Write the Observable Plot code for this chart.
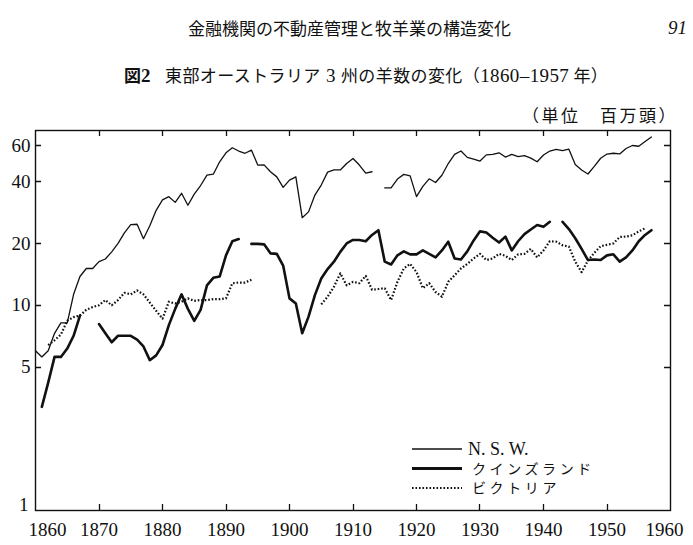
<!DOCTYPE html>
<html><head><meta charset="utf-8">
<script src="https://cdn.jsdelivr.net/npm/d3@7"></script>
<script src="https://cdn.jsdelivr.net/npm/@observablehq/plot@0.6"></script>
<style>
body{margin:0;background:#fff;}
#wrap{position:relative;width:693px;height:545px;overflow:hidden;background:#fff;color:#111;}
.t{position:absolute;white-space:nowrap;line-height:1;}
.jp{font-family:"Noto Sans CJK JP","Noto Sans CJK SC",sans-serif;}
.sf{font-family:"Liberation Serif","DejaVu Serif",serif;}
#wrap svg{position:absolute;left:0;top:0;}
</style></head><body>
<div id="wrap">
<div class="t jp" style="left:188px;top:19px;font-size:17px;">金融機関の不動産管理と牧羊業の構造変化</div>
<div class="t sf" style="left:668px;top:18px;font-size:19px;font-style:italic;">91</div>
<div class="t jp" style="left:124px;top:66px;font-size:17px;font-weight:bold;">図<span class="sf" style="font-weight:bold;font-size:19px;">2</span></div>
<div class="t jp" style="left:165px;top:66px;font-size:17px;letter-spacing:0.4px;">東部オーストラリア<span class="sf" style="font-size:19px;"> 3 </span>州の羊数の変化（<span class="sf" style="font-size:19px;">1860–1957</span> 年）</div>
<div class="t jp" style="left:522px;top:106px;font-size:17px;letter-spacing:2.5px;">（単位　百万頭）</div>
</div>
<script>
const years = d3.range(1860, 1958);
const nsw = [
  6.0, 5.6, 6.0, 7.3, 8.2, 8.2, 11.3, 13.8, 15.1, 15.1,
  16.3, 16.8, 18.2, 20.0, 22.5, 24.7, 24.8, 21.1, 24.4, 29.0,
  32.6, 33.8, 31.7, 35.1, 30.7, 34.8, 38.3, 43.0, 43.5, 50.0,
  55.3, 58.5, 56.4, 55.0, 57.0, 48.2, 48.3, 44.7, 42.2, 37.5,
  40.7, 42.2, 26.7, 28.5, 34.4, 38.5, 44.5, 45.6, 45.6, 49.0,
  51.9, 48.2, 44.0, 44.7, null, 37.3, 37.3, 41.2, 43.4, 42.7,
  33.8, 37.9, 41.3, 39.6, 43.0, 49.0, 54.3, 56.4, 52.5, 51.5,
  50.4, 54.0, 54.3, 55.3, 52.7, 54.3, 53.0, 53.6, 52.1, 50.0,
  53.9, 56.4, 57.4, 56.6, 57.6, 48.5, 45.6, 43.6, 47.5, 52.0,
  54.5, 55.0, 54.6, 58.0, 60.0, 59.5, 62.7, 66.0
];
const queensland = [
  null, 3.2, 4.2, 5.6, 5.6, 6.15, 7.1, 8.9, null, null,
  8.1, 7.3, 6.6, 7.1, 7.1, 7.1, 6.8, 6.3, 5.4, 5.7,
  6.4, 8.0, 9.6, 11.3, 9.6, 8.4, 9.5, 12.5, 13.6, 13.8,
  17.5, 20.5, 21.0, null, 19.9, 19.9, 19.8, 17.9, 17.8, 15.6,
  10.8, 10.2, 7.3, 8.8, 11.2, 13.5, 15.0, 16.3, 18.2, 20.0,
  20.8, 20.8, 20.5, 22.0, 23.2, 16.3, 15.8, 17.5, 18.3, 17.7,
  17.7, 18.5, 17.8, 17.1, 18.5, 20.4, 16.9, 16.7, 18.3, 20.7,
  22.9, 22.6, 21.3, 20.2, 21.6, 18.5, 20.5, 22.2, 23.4, 24.6,
  24.1, 25.5, null, 25.5, 23.5, 21.2, 18.8, 16.6, 16.7, 16.6,
  17.5, 17.7, 16.3, 17.1, 18.5, 20.5, 22.0, 23.2
];
const victoria = [
  null, null, 6.4, 6.75, 7.2, 8.4, 8.75, 8.9, 9.5, 9.8,
  10.0, 10.6, 10.0, 10.6, 11.5, 11.3, 11.8, 11.3, 10.3, 9.4,
  8.6, 10.4, 10.2, 10.4, 10.8, 10.5, 10.6, 10.6, 10.7, 10.7,
  10.8, 12.8, 12.9, 12.9, 13.3, null, null, null, null, null,
  null, null, null, null, null, 10.1, 11.0, 12.3, 14.3, 12.5,
  13.0, 12.8, 13.9, 11.9, 12.0, 12.1, 10.6, 13.0, 15.1, 15.9,
  14.5, 12.1, 12.8, 11.6, 11.0, 13.0, 14.0, 15.1, 15.9, 16.9,
  17.8, 16.6, 16.9, 17.8, 17.4, 16.6, 17.7, 17.8, 18.8, 17.1,
  18.5, 20.5, 20.4, 19.6, 19.3, 16.3, 14.5, 16.5, 18.0, 19.4,
  19.7, 20.0, 21.5, 21.6, 21.9, 22.9, 23.7, null
];
const yTicks = [1, 5, 10, 20, 40, 60];
const xTicks = d3.range(1860, 1961, 10);
const seriesNames = ["N. S. W.", "クインズランド", "ビクトリア"];

const serif = '"Liberation Serif", "DejaVu Serif", serif';
const W = 693, H = 545, mL = 35, mR = 23, mT = 130, mB = 35;
const tickLen = 6;

const chart = Plot.plot({
  width: W, height: H,
  marginLeft: mL, marginRight: mR, marginTop: mT, marginBottom: mB,
  x: {domain: [1860, 1960]},
  y: {type: "log", domain: [1, 71]},
  style: {fontFamily: serif, fontSize: "19px", color: "#111", background: "transparent", overflow: "visible"},
  marks: [
    Plot.frame({stroke: "#111", strokeWidth: 1.4}),
    Plot.axisY({ticks: yTicks.slice(1), tickSize: 0, tickPadding: 5, tickFormat: d => String(d), label: null, fontSize: 19}),
    Plot.axisY({ticks: yTicks.slice(0, 1), tickSize: 0, tickPadding: 7, tickFormat: d => String(d), label: null, fontSize: 19, dy: -6}),
    Plot.axisX({ticks: xTicks.slice(1, -1), tickSize: 0, tickPadding: 12, tickFormat: d => String(d), label: null, fontSize: 19}),
    Plot.axisX({ticks: xTicks.slice(0, 1), tickSize: 0, tickPadding: 12, tickFormat: d => String(d), label: null, fontSize: 19, dx: 12}),
    Plot.axisX({ticks: xTicks.slice(-1), tickSize: 0, tickPadding: 12, tickFormat: d => String(d), label: null, fontSize: 19, dx: -6}),
    Plot.line(years, {x: years, y: nsw, stroke: "#111", strokeWidth: 1.3}),
    Plot.line(years, {x: years, y: queensland, stroke: "#111", strokeWidth: 2.6}),
    Plot.line(years, {x: years, y: victoria, stroke: "#111", strokeWidth: 2.2, strokeDasharray: "1.6 1.9", strokeLinecap: "butt"})
  ]
});
document.getElementById("wrap").appendChild(chart);

const svg = d3.select(chart);

// inward tick marks on all four sides, positioned through Plot's own scales
const xs = chart.scale("x"), ys = chart.scale("y");
const xPix = xs.apply ? (v => xs.apply(v)) : d3.scaleLinear(xs.domain, xs.range);
const yPix = ys.apply ? (v => ys.apply(v)) : d3.scaleLog(ys.domain, ys.range);
const L = mL, R = W - mR, T = mT, B = H - mB;
const tg = svg.append("g").attr("stroke", "#111").attr("stroke-width", 1.3).attr("fill", "none");
for (const v of yTicks.slice(1)) {
  const yy = Math.round(yPix(v)) + 0.5;
  tg.append("path").attr("d", `M${L},${yy}H${L + tickLen}M${R - tickLen},${yy}H${R}`);
}
for (const v of xTicks.slice(1, -1)) {
  const xx = Math.round(xPix(v)) + 0.5;
  tg.append("path").attr("d", `M${xx},${T}V${T + tickLen}M${xx},${B - tickLen}V${B}`);
}

// legend (inside plot frame, lower right)
const lg = svg.append("g").attr("transform", "translate(412,449)").attr("text-anchor", "start");
const styles = [
  {w: 1.3, dash: null},
  {w: 2.8, dash: null},
  {w: 2.2, dash: "1.6 1.9"}
];
seriesNames.forEach((name, i) => {
  const yy = i * 19.5;
  lg.append("line").attr("x1", 0).attr("x2", 50).attr("y1", yy).attr("y2", yy)
    .attr("stroke", "#111").attr("stroke-width", styles[i].w)
    .attr("stroke-dasharray", styles[i].dash);
  const t = lg.append("text").attr("x", i === 0 ? 56 : 60).attr("y", yy).attr("dy", "0.36em")
    .attr("text-anchor", "start").attr("fill", "#111").text(name);
  if (i === 0) t.attr("font-family", serif).attr("font-size", 18);
  else t.attr("font-family", '"Noto Sans CJK JP", sans-serif').attr("font-size", 14).attr("letter-spacing", 3.6);
});
</script>
</body></html>
